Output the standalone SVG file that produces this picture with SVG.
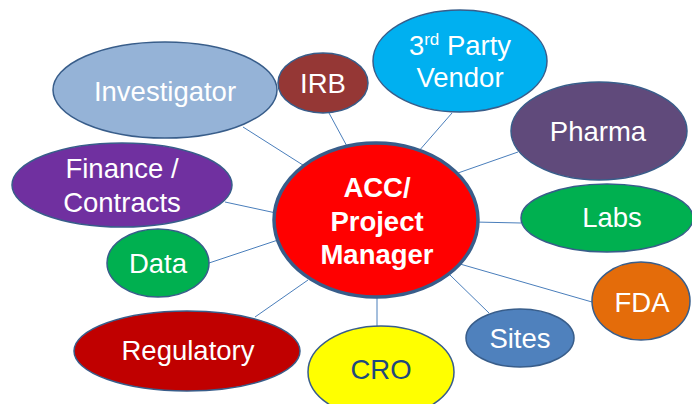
<svg xmlns="http://www.w3.org/2000/svg" width="692" height="404" viewBox="0 0 692 404">
<style>
.n{stroke:#385d8a;stroke-width:1.5}
.t{font-family:"Liberation Sans",Arial,sans-serif;font-size:27.5px;fill:#ffffff;text-anchor:middle}
.c line{stroke:#4a7ebb;stroke-width:1}
</style>
<rect width="692" height="404" fill="#ffffff"/>
<g class="c" id="connectors">
<line x1="243" y1="127" x2="306" y2="167"/>
<line x1="329" y1="113" x2="349" y2="150"/>
<line x1="452" y1="113" x2="418" y2="152"/>
<line x1="518" y1="152" x2="458" y2="173"/>
<line x1="521" y1="223" x2="474" y2="222"/>
<line x1="592" y1="302" x2="460" y2="264"/>
<line x1="489" y1="313" x2="450" y2="275"/>
<line x1="377" y1="328" x2="377" y2="294"/>
<line x1="255" y1="317" x2="308" y2="280"/>
<line x1="209" y1="263" x2="278" y2="240"/>
<line x1="225" y1="202" x2="276" y2="213"/>
</g>
<g id="investigator"><ellipse class="n" cx="165" cy="90" rx="112" ry="48" fill="#95b3d7"/><text class="t" x="165" y="101">Investigator</text></g>
<g id="irb"><ellipse class="n" cx="323" cy="83" rx="45" ry="30" fill="#953735"/><text class="t" x="323" y="93">IRB</text></g>
<g id="vendor"><ellipse class="n" cx="460" cy="61" rx="87" ry="51" fill="#00b0f0"/><text class="t" x="460" y="55">3<tspan font-size="17" dy="-10">rd</tspan><tspan dy="10"> Party</tspan></text><text class="t" x="460" y="87">Vendor</text></g>
<g id="pharma"><ellipse class="n" cx="599" cy="131" rx="88" ry="49" fill="#604a7b"/><text class="t" x="598" y="141">Pharma</text></g>
<g id="finance"><ellipse class="n" cx="122" cy="185" rx="110" ry="42" fill="#7030a0"/><text class="t" x="122" y="178">Finance /</text><text class="t" x="122" y="212">Contracts</text></g>
<g id="labs"><ellipse class="n" cx="607" cy="218" rx="86" ry="34" fill="#00b050"/><text class="t" x="612" y="227">Labs</text></g>
<g id="data"><ellipse class="n" cx="158" cy="263" rx="51" ry="34" fill="#00b050"/><text class="t" x="158" y="273">Data</text></g>
<g id="fda"><ellipse class="n" cx="641" cy="301" rx="49" ry="39" fill="#e46c0a"/><text class="t" x="642" y="312">FDA</text></g>
<g id="sites"><ellipse class="n" cx="520" cy="338" rx="54" ry="29" fill="#4f81bd"/><text class="t" x="520" y="348">Sites</text></g>
<g id="regulatory"><ellipse class="n" cx="187" cy="351" rx="113" ry="40" fill="#c00000"/><text class="t" x="188" y="360">Regulatory</text></g>
<g id="cro"><ellipse class="n" cx="381" cy="372" rx="73" ry="46" fill="#ffff00"/><text class="t" x="381" y="379" fill="#1f497d" style="fill:#1f497d">CRO</text></g>
<g id="center"><ellipse cx="376" cy="220" rx="102" ry="77" fill="#ff0000" stroke="#385d8a" stroke-width="3.5"/><text class="t" x="377" y="197" font-weight="bold">ACC/</text><text class="t" x="377" y="231" font-weight="bold">Project</text><text class="t" x="377" y="264" font-weight="bold">Manager</text></g>
</svg>
